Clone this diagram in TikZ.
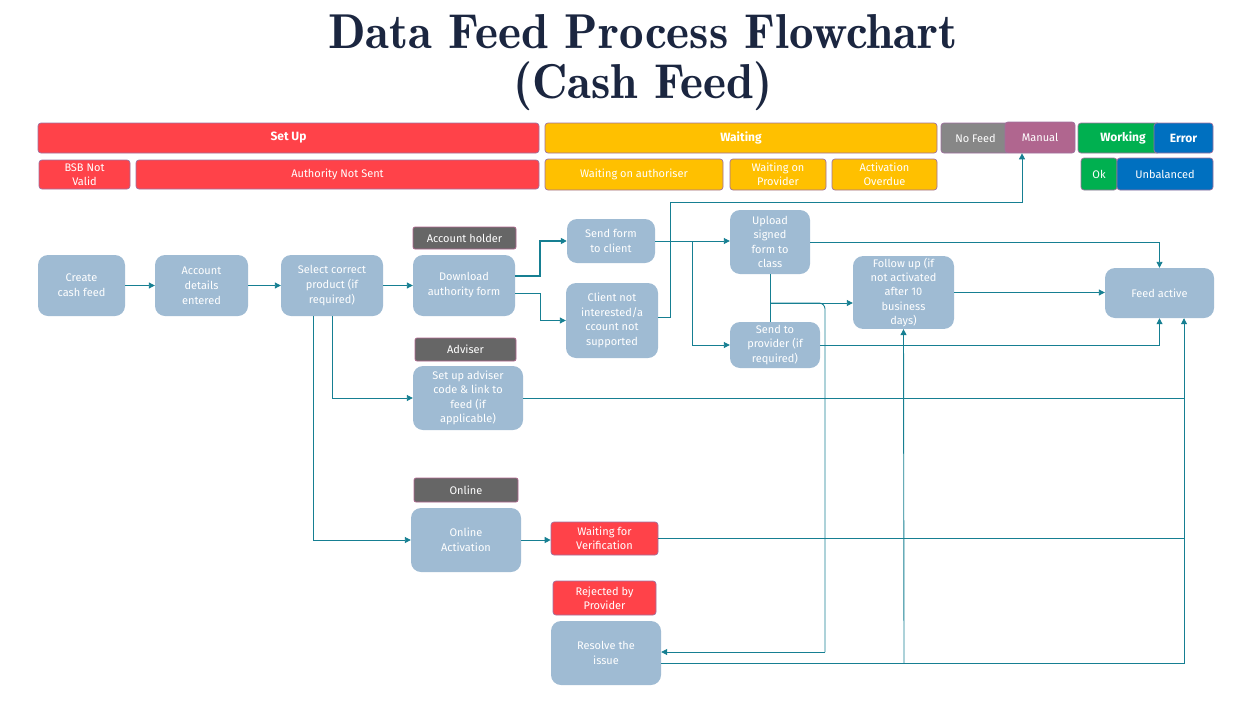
\documentclass[tikz,border=0pt]{standalone}
\usepackage{fontspec}
\setmainfont{Fira Sans}
\usetikzlibrary{arrows.meta}
\definecolor{flowblue}{HTML}{9FBBD3}
\definecolor{tealline}{HTML}{167F92}
\definecolor{sred}{HTML}{FF4249}
\definecolor{samber}{HTML}{FFC000}
\definecolor{sgray}{HTML}{878787}
\definecolor{smauve}{HTML}{B0668F}
\definecolor{sgreen}{HTML}{00B050}
\definecolor{sblue}{HTML}{0070C0}
\definecolor{dlabel}{HTML}{666666}
\definecolor{lborder}{HTML}{A0709E}
\definecolor{titlecol}{HTML}{1B2640}
\begin{document}
\begin{tikzpicture}[x=1pt,y=-1pt,
  flow/.style={fill=flowblue, rounded corners=10pt, text=white, align=center,
    font=\fontsize{11}{15}\selectfont, inner sep=2pt},
  legend/.style={draw=lborder, line width=0.7pt, rounded corners=3pt, text=white,
    align=center, font=\fontsize{11}{14}\selectfont, inner sep=1pt},
  legendbold/.style={legend, font=\fontsize{12}{14}\selectfont\bfseries},
  role/.style={fill=dlabel, draw=smauve, line width=0.7pt, rounded corners=2pt,
    text=white, font=\fontsize{11}{13}\selectfont, inner sep=1pt},
  conn/.style={draw=tealline, line width=0.9pt},
  arr/.style={conn, -{Triangle[length=6pt,width=6pt]}}]
\useasboundingbox (0,0) rectangle (1260,707);

% title
\node[text=titlecol, align=center, font=\fontfamily{lmr}\fontsize{49}{50}\selectfont\bfseries]
  (title) at (643,63) {Data Feed Process Flowchart\\(Cash Feed)};

% legend
\node[legendbold, fill=sred, minimum width=501pt, minimum height=30pt] (setup) at (288.5,138) {Set Up};
\node[legend, fill=sred, minimum width=91pt, minimum height=29pt] (bsb) at (84.5,174.5) {BSB Not\\Valid};
\node[legend, fill=sred, minimum width=403pt, minimum height=29pt] (ans) at (337.5,174.5) {Authority Not Sent};
\node[legendbold, fill=samber, minimum width=392pt, minimum height=30pt] (waiting) at (741,138) {Waiting};
\node[legend, fill=samber, minimum width=178pt, minimum height=31pt] (wauth) at (634,174.5) {Waiting on authoriser};
\node[legend, fill=samber, minimum width=96pt, minimum height=31pt] (wprov) at (778,174.5) {Waiting on\\Provider};
\node[legend, fill=samber, minimum width=105pt, minimum height=31pt] (aover) at (884.5,174.5) {Activation\\Overdue};
\node[legend, fill=sgray, minimum width=69pt, minimum height=30pt] (nofeed) at (975.5,138) {No Feed};
\node[legend, fill=smauve, minimum width=70pt, minimum height=31pt] (manual) at (1040,137.5) {Manual};
\node[legendbold, fill=sgreen, minimum width=82pt, minimum height=30pt] (working) at (1119,138) {\hspace*{8pt}Working};
\node[legendbold, fill=sblue, minimum width=59pt, minimum height=30pt] (error) at (1183.5,138) {Error};
\node[legend, fill=sgreen, minimum width=36pt, minimum height=32pt] (ok) at (1099,174) {Ok};
\node[legend, fill=sblue, minimum width=96pt, minimum height=32pt] (unbal) at (1165,174) {Unbalanced};

% flow nodes
\node[flow, minimum width=87pt, minimum height=61pt] (create) at (81.5,285.5) {Create\\cash feed};
\node[flow, minimum width=93pt, minimum height=61pt] (acct) at (201.5,285.5) {Account\\details\\entered};
\node[flow, minimum width=102pt, minimum height=61pt] (select) at (332,285.5) {Select correct\\product (if\\required)};
\node[flow, minimum width=102pt, minimum height=61pt] (download) at (464,285.5) {Download\\authority form};
\node[flow, minimum width=88pt, minimum height=44pt] (sendform) at (611,241) {Send form\\to client};
\node[flow, minimum width=92pt, minimum height=75pt, font=\fontsize{11}{14.5}\selectfont] (client) at (612,320.5) {Client not\\interested/a\\ccount not\\supported};
\node[flow, minimum width=80pt, minimum height=64pt, font=\fontsize{11}{14.5}\selectfont] (upload) at (770,242) {Upload\\signed\\form to\\class};
\node[flow, minimum width=90pt, minimum height=46pt, font=\fontsize{11}{14.5}\selectfont] (sendprov) at (775,345) {Send to\\provider (if\\required)};
\node[flow, minimum width=101pt, minimum height=72pt, font=\fontsize{11}{14.3}\selectfont] (follow) at (903.5,292.5) {Follow up (if\\not activated\\after 10\\business\\days)};
\node[flow, minimum width=109pt, minimum height=50pt] (feed) at (1159.5,293) {Feed active};
\node[flow, minimum width=110pt, minimum height=64pt, font=\fontsize{11}{14.5}\selectfont] (adviser) at (468,398) {Set up adviser\\code \& link to\\feed (if\\applicable)};
\node[flow, minimum width=110pt, minimum height=64pt] (online) at (466,540) {Online\\Activation};
\node[flow, minimum width=110pt, minimum height=64pt] (resolve) at (606,653) {Resolve the\\issue};

% role labels
\node[role, minimum width=103pt, minimum height=22pt] (lblholder) at (464.5,238) {Account holder};
\node[role, minimum width=101pt, minimum height=23pt] (lbladv) at (465.5,349.5) {Adviser};
\node[role, minimum width=104pt, minimum height=24pt] (lblonline) at (466,490) {Online};

% red status nodes
\node[legend, fill=sred, minimum width=107pt, minimum height=33pt] (waitver) at (604.5,538.5) {Waiting for\\Verification};
\node[legend, fill=sred, minimum width=103pt, minimum height=34pt] (rejected) at (604.5,598) {Rejected by\\Provider};

% connectors
\draw[arr] (create) -- (acct);
\draw[arr] (acct) -- (select);
\draw[arr] (select) -- (download);
\draw[arr, line width=1.6pt] ([yshift=9.5pt]download.east) -- ++(25,0) |- (sendform.west);
\draw[arr] ([yshift=-7.5pt]download.east) -- ++(25,0) |- (client.west);
\draw[arr] (sendform.east) -- (sendform.east -| upload.west);
\coordinate (b1) at (692,241);
\draw[arr] (b1) |- (sendprov.west);
\coordinate (m1) at (670,202);
\draw[arr] ([yshift=3pt]client.east) -| (m1) -| ([xshift=-18pt]manual.south);
\draw[arr] (upload.east) -| (feed.north);
\draw[arr] (sendprov.east) -| (feed.south);
\draw[arr] (follow.east) -- (follow.east -| feed.west);
\draw[conn] (upload.south) -- (upload.south |- sendprov.north);
\coordinate (j1) at (770,303);
\draw[arr] (j1) -- (j1 -| follow.west);
\coordinate (c2) at (825,652);
\draw[conn, rounded corners=6pt] (j1) -| (c2);
\draw[arr] (c2) -- (c2 -| resolve.east);
\draw[arr] ([yshift=-10pt]resolve.east) -| ([xshift=24.5pt]feed.south);
\coordinate (c3) at (904,663);
\draw[arr] (c3) -- (follow.south);
\coordinate (c4) at (1184,398);
\draw[conn] (adviser.east) -- (c4);
\coordinate (c5) at (1184,538.5);
\draw[conn] (waitver.east) -- (c5);
\draw[arr] (select.south) |- (adviser.west);
\draw[arr] ([xshift=-19pt]select.south) |- (online.west);
\draw[arr] (online.east) -- (online.east -| waitver.west);
\end{tikzpicture}
\end{document}
